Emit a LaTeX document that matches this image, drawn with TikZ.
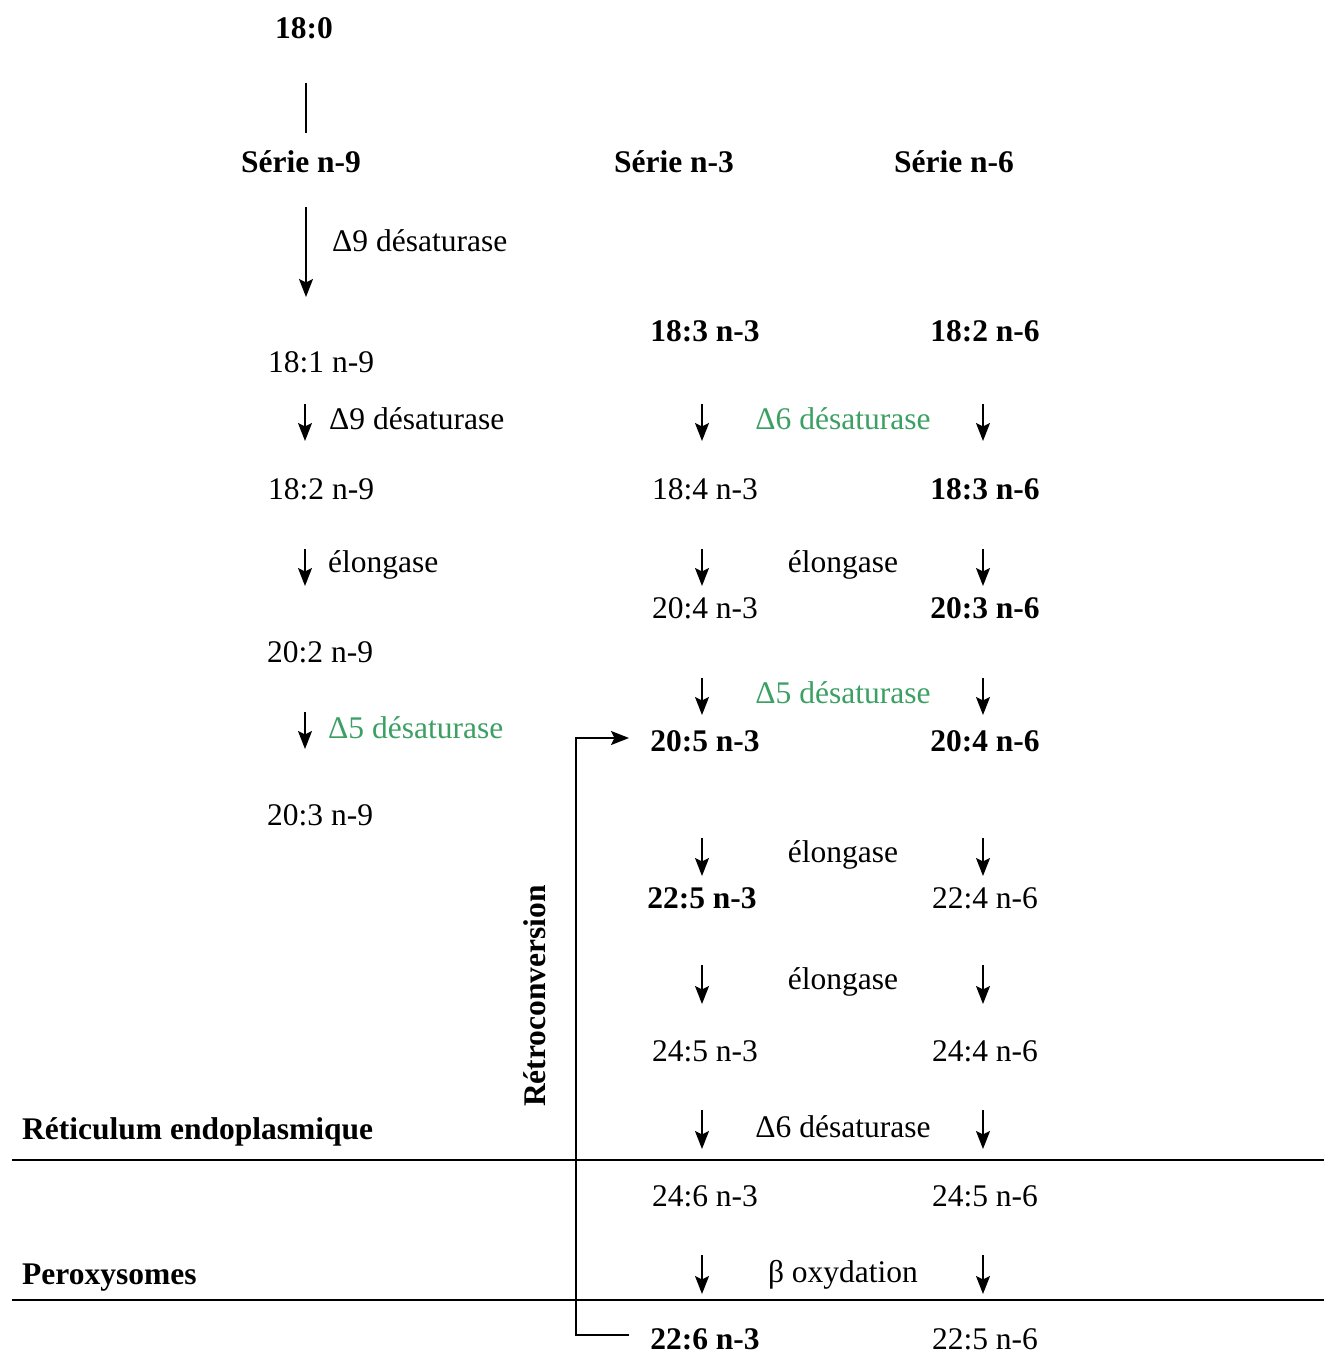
\documentclass[tikz,border=0pt]{standalone}
\usepackage{fontspec}
\setmainfont{Liberation Serif}
\usetikzlibrary{arrows.meta}
\definecolor{enzgreen}{RGB}{60,160,100}
\begin{document}
\begin{tikzpicture}[x=1pt,y=-1pt,
 t/.style={font=\fontsize{31.5}{38}\selectfont, inner sep=0pt, anchor=base},
 tb/.style={t, font=\fontsize{31.5}{38}\selectfont\bfseries},
 tl/.style={t, anchor=base west},
 tbl/.style={tb, anchor=base west},
 gr/.style={text=enzgreen},
 arr/.style={line width=1.7pt, -{Stealth[length=18pt,width=14pt,inset=3.5pt]}},
 ln/.style={line width=1.7pt}]
\useasboundingbox (0,0) rectangle (1324,1353);
% texts
\node[tb] (c180) at (304,38) {18:0};
\node[tb] (s9) at (301,172) {Série n-9};
\node[tb] (s3) at (674,172) {Série n-3};
\node[tb] (s6) at (954,172) {Série n-6};
\node[tl] (e1) at (332,251) {Δ9 désaturase};
\node[tb] (a1833) at (705,341) {18:3 n-3};
\node[tb] (a1826) at (985,341) {18:2 n-6};
\node[tl] (a1819) at (268,372) {18:1 n-9};
\node[tl] (e2) at (329,429) {Δ9 désaturase};
\node[t,gr] (e3) at (843,429) {Δ6 désaturase};
\node[tl] (a1829) at (268,499) {18:2 n-9};
\node[t] (a1843) at (705,499) {18:4 n-3};
\node[tb] (a1836) at (985,499) {18:3 n-6};
\node[tl] (e4) at (328,572) {élongase};
\node[t] (e5) at (843,572) {élongase};
\node[t] (a2043) at (705,618) {20:4 n-3};
\node[tb] (a2036) at (985,618) {20:3 n-6};
\node[tl] (a2029) at (267,662) {20:2 n-9};
\node[t,gr] (e6) at (843,703) {Δ5 désaturase};
\node[tl,gr] (e7) at (328,738) {Δ5 désaturase};
\node[tb] (a2053) at (705,751) {20:5 n-3};
\node[tb] (a2046) at (985,751) {20:4 n-6};
\node[tl] (a2039) at (267,825) {20:3 n-9};
\node[t] (e8) at (843,862) {élongase};
\node[tb] (a2253) at (702,908) {22:5 n-3};
\node[t] (a2246) at (985,908) {22:4 n-6};
\node[t] (e9) at (843,989) {élongase};
\node[t] (a2453) at (705,1061) {24:5 n-3};
\node[t] (a2446) at (985,1061) {24:4 n-6};
\node[tb, rotate=90, anchor=center] (retro) at (535,996) {Rétroconversion};
\node[tbl] (re) at (22,1139) {Réticulum endoplasmique};
\node[t] (e10) at (843,1137) {Δ6 désaturase};
\node[t] (a2463) at (705,1206) {24:6 n-3};
\node[t] (a2456) at (985,1206) {24:5 n-6};
\node[tbl] (per) at (22,1284) {Peroxysomes};
\node[t] (e11) at (843,1282) {β oxydation};
\node[tb] (a2263) at (705,1349) {22:6 n-3};
\node[t] (a2256) at (985,1349) {22:5 n-6};
% line from 18:0
\coordinate (l0a) at (306,83);
\coordinate (l0b) at (306,133);
\draw[ln] (l0a) -- (l0b);
% long arrow
\coordinate (la) at (306,207);
\coordinate (lb) at (306,297);
\draw[arr] (la) -- (lb);
% short arrows
\foreach \n/\x/\a/\b in {L1/305/404/441, L2/305/549/586, L3/305/712/749,
  A1/702/404/441, B1/983/404/441,
  A2/702/549/586, B2/983/549/586,
  A3/702/678/715, B3/983/678/715,
  A4/702/838/876, B4/983/838/876,
  A5/702/965/1004, B5/983/965/1004,
  A6/702/1110/1149, B6/983/1110/1149,
  A7/702/1255/1294, B7/983/1255/1294}{
  \coordinate (s\n) at (\x,\a);
  \coordinate (e\n) at (\x,\b);
  \draw[arr] (s\n) -- (e\n);
}
% separators
\coordinate (sep1a) at (12,1160);
\coordinate (sep1b) at (1324,1160);
\coordinate (sep2a) at (12,1300);
\coordinate (sep2b) at (1324,1300);
\draw[ln] (sep1a) -- (sep1b);
\draw[ln] (sep2a) -- (sep2b);
% retroconversion
\coordinate (rt) at (629,738);
\coordinate (rb) at (629,1335);
\draw[arr] (rb) -- ++(-53,0) |- (rt);
\end{tikzpicture}
\end{document}
